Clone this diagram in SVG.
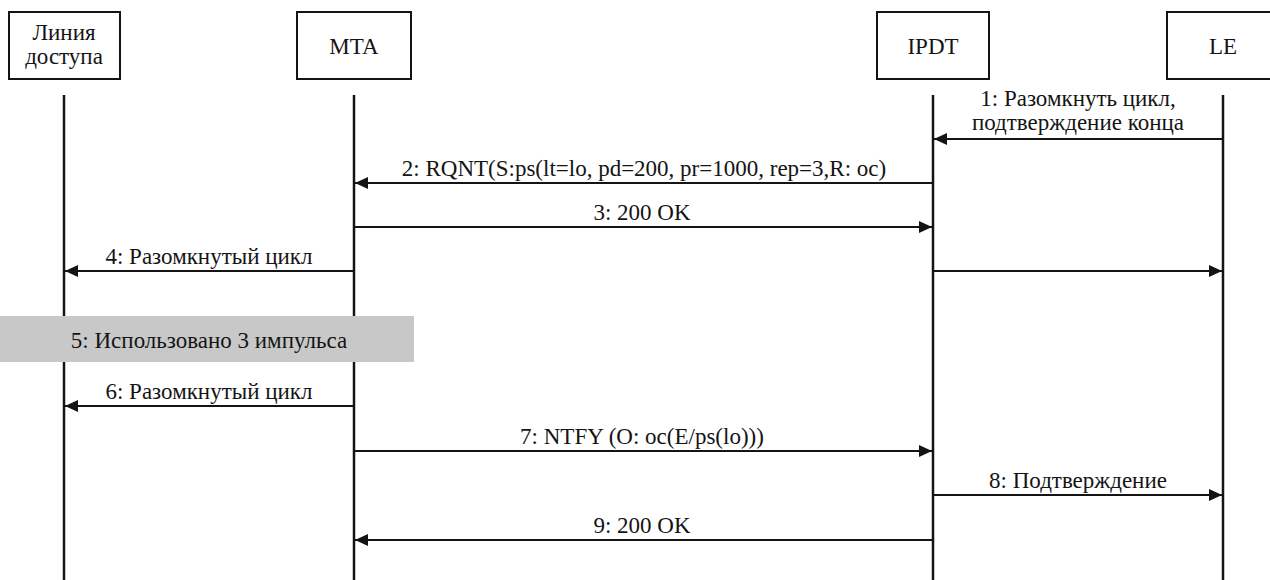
<svg xmlns="http://www.w3.org/2000/svg" width="1270" height="580" viewBox="0 0 1270 580">
<style>
text{font-family:"Liberation Serif","Times New Roman",serif;font-size:23px;fill:#141414;text-anchor:middle}
.box{fill:#fff;stroke:#141414;stroke-width:2}
.life{stroke:#141414;stroke-width:2.5}
.msg{stroke:#141414;stroke-width:2;fill:none}
</style>
<defs>
<marker id="ah" markerWidth="13" markerHeight="12" viewBox="0 0 13 12" refX="13" refY="6" orient="auto" markerUnits="userSpaceOnUse">
<path d="M0,0 L13,6 L0,12 Z" fill="#141414"/>
</marker>
</defs>
<rect width="1270" height="580" fill="#fff"/>
<g id="node-line">
<rect class="box" x="9" y="12" width="111" height="67"/>
<text x="64" y="40">Линия</text>
<text x="64" y="64">доступа</text>
<line class="life" x1="64" y1="95" x2="64" y2="580"/>
</g>
<g id="node-mta">
<rect class="box" x="297" y="12" width="114" height="67"/>
<text x="354" y="54">MTA</text>
<line class="life" x1="354" y1="95" x2="354" y2="580"/>
</g>
<g id="node-ipdt">
<rect class="box" x="877" y="12" width="112" height="67"/>
<text x="933" y="54">IPDT</text>
<line class="life" x1="933" y1="95" x2="933" y2="580"/>
</g>
<g id="node-le">
<rect class="box" x="1167" y="12" width="112" height="67"/>
<text x="1223" y="54">LE</text>
<line class="life" x1="1223" y1="95" x2="1223" y2="580"/>
</g>
<g id="note-5">
<rect x="0" y="316" width="414" height="46" fill="#c8c8c8"/>
<text x="209" y="348">5: Использовано 3 импульса</text>
</g>
<g id="connectors">
<line class="msg" x1="1223" y1="139" x2="934" y2="139" marker-end="url(#ah)"/>
<text x="1078" y="106">1: Разомкнуть цикл,</text>
<text x="1078" y="130">подтверждение конца</text>
<line class="msg" x1="933" y1="183" x2="355" y2="183" marker-end="url(#ah)"/>
<text x="644" y="176">2: RQNT(S:ps(lt=lo, pd=200, pr=1000, rep=3,R: oc)</text>
<line class="msg" x1="354" y1="227" x2="932" y2="227" marker-end="url(#ah)"/>
<text x="642" y="220">3: 200 OK</text>
<line class="msg" x1="354" y1="271" x2="65" y2="271" marker-end="url(#ah)"/>
<text x="209" y="264">4: Разомкнутый цикл</text>
<line class="msg" x1="933" y1="271" x2="1222" y2="271" marker-end="url(#ah)"/>
<line class="msg" x1="354" y1="406" x2="65" y2="406" marker-end="url(#ah)"/>
<text x="209" y="399">6: Разомкнутый цикл</text>
<line class="msg" x1="354" y1="451" x2="932" y2="451" marker-end="url(#ah)"/>
<text x="642" y="444">7: NTFY (O: oc(E/ps(lo)))</text>
<line class="msg" x1="933" y1="495" x2="1222" y2="495" marker-end="url(#ah)"/>
<text x="1078" y="488">8: Подтверждение</text>
<line class="msg" x1="933" y1="540" x2="355" y2="540" marker-end="url(#ah)"/>
<text x="642" y="533">9: 200 OK</text>
</g>
</svg>
